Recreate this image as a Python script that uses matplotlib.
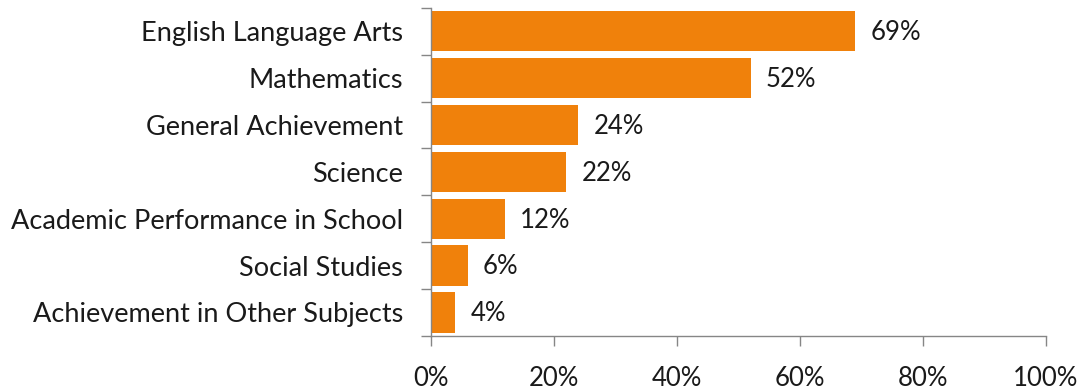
import matplotlib
matplotlib.use("Agg")
import matplotlib.pyplot as plt
import numpy as np
from matplotlib.ticker import FixedLocator, PercentFormatter

categories = [
    "English Language Arts",
    "Mathematics",
    "General Achievement",
    "Science",
    "Academic Performance in School",
    "Social Studies",
    "Achievement in Other Subjects",
]
values = [69, 52, 24, 22, 12, 6, 4]
x_ticks = [0, 20, 40, 60, 80, 100]

plt.rcParams["font.family"] = ["Lato", "DejaVu Sans"]

fig = plt.figure(figsize=(10.88, 3.91), dpi=100)
ax = fig.add_axes([0.396, 0.141, 0.565, 0.839])

y = np.arange(len(categories))
bar_color = "#F0810B"
ax.barh(y, values, height=0.86, color=bar_color, edgecolor="none")

for yi, v in zip(y, values):
    ax.text(v + 2.5, yi + 0.03, f"{v}%", va="center", ha="left", fontsize=18.5, color="#1a1a1a")

ax.set_xlim(0, 100)
ax.set_ylim(len(categories) - 0.5, -0.5)

ax.set_yticks(y)
ax.set_yticklabels(categories, fontsize=19.5, color="#1a1a1a")
ax.tick_params(axis="y", which="major", length=0, pad=20)
ax.yaxis.set_minor_locator(FixedLocator(np.arange(-0.5, len(categories), 1.0)))
ax.tick_params(axis="y", which="minor", length=7, width=1, color="#868686", direction="out")

ax.set_xticks(x_ticks)
ax.xaxis.set_major_formatter(PercentFormatter(decimals=0))
ax.tick_params(axis="x", which="major", length=7, width=1, color="#868686",
               labelsize=18.5, labelcolor="#1a1a1a", pad=15)

for side in ("top", "right"):
    ax.spines[side].set_visible(False)
for side in ("left", "bottom"):
    ax.spines[side].set_color("#868686")
    ax.spines[side].set_linewidth(1)

fig.savefig("out.png", dpi=100, facecolor="white")
